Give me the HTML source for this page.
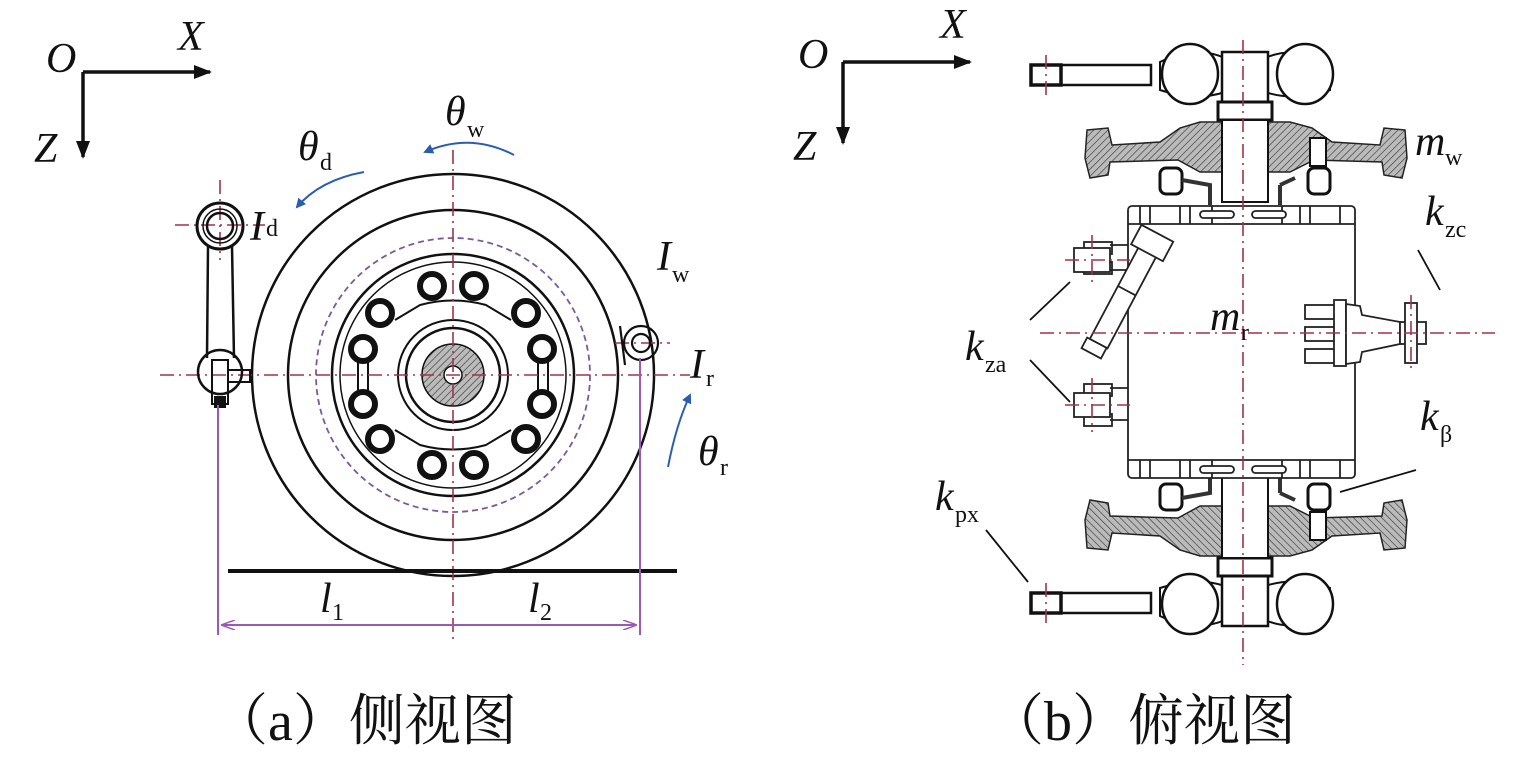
<!DOCTYPE html>
<html><head><meta charset="utf-8"><style>
html,body{margin:0;padding:0;background:#fff;}
svg{display:block;}
.t{font-family:"Liberation Serif",serif;font-style:italic;fill:#111;}
.s{font-family:"Liberation Serif",serif;fill:#111;}
.c{font-family:"Liberation Serif","Noto Serif CJK SC","Noto Sans CJK SC",serif;fill:#111;}
</style></head><body>
<svg width="1535" height="759" viewBox="0 0 1535 759" xmlns="http://www.w3.org/2000/svg">
<defs>
<marker id="ab" markerWidth="18" markerHeight="14" refX="16" refY="7" orient="auto" markerUnits="userSpaceOnUse"><path d="M0,0 L18,7 L0,14 z" fill="#111"/></marker>
<marker id="abl" markerWidth="10" markerHeight="10" refX="8" refY="5" orient="auto" markerUnits="userSpaceOnUse"><path d="M0,0 L10,5 L0,10 z" fill="#2a5db0"/></marker>
<marker id="ap" markerWidth="14" markerHeight="10" refX="13" refY="5" orient="auto" markerUnits="userSpaceOnUse"><path d="M0,0 L14,5 L0,10" fill="none" stroke="#9b59b6" stroke-width="1.5"/></marker>
<pattern id="h" width="5" height="5" patternUnits="userSpaceOnUse" patternTransform="rotate(45)"><rect width="5" height="5" fill="#bbb"/><line x1="0" y1="0" x2="0" y2="5" stroke="#444" stroke-width="1.4"/></pattern>
</defs>

<g stroke="#111" stroke-width="3.5" fill="none">
<path d="M83,72 H210" marker-end="url(#ab)"/>
<path d="M83,72 V157" marker-end="url(#ab)"/>
</g>
<text class="t" x="46" y="72" font-size="42">O</text>
<text class="t" x="178" y="50" font-size="42">X</text>
<text class="t" x="34" y="162" font-size="42">Z</text>

<g fill="none" stroke="#111" stroke-width="2.5">
<circle cx="453" cy="375" r="201"/>
<circle cx="453" cy="375" r="165"/>
<circle cx="453" cy="375" r="121"/>
<circle cx="453" cy="375" r="113" stroke-width="1.5"/>
<circle cx="453" cy="375" r="55" stroke-width="2"/>
<circle cx="453" cy="375" r="47"/>
</g>
<circle cx="453" cy="375" r="137" fill="none" stroke="#7a5a9a" stroke-width="1.8" stroke-dasharray="6,4"/>
<circle cx="453" cy="375" r="31" fill="url(#h)" stroke="#111" stroke-width="1.5"/>
<circle cx="453" cy="375" r="9" fill="#fff" stroke="#111" stroke-width="1.5"/>
<g fill="#fff" stroke="#111" stroke-width="6">
<circle cx="432" cy="286" r="12"/><circle cx="474" cy="286" r="12"/>
<circle cx="380" cy="313" r="12"/><circle cx="526" cy="313" r="12"/>
<circle cx="363" cy="349" r="12"/><circle cx="542" cy="349" r="12"/>
<circle cx="363" cy="404" r="12"/><circle cx="542" cy="404" r="12"/>
<circle cx="380" cy="439" r="12"/><circle cx="526" cy="439" r="12"/>
<circle cx="432" cy="465" r="12"/><circle cx="474" cy="465" r="12"/>
</g>
<g fill="none" stroke="#111" stroke-width="2">
<path d="M395,320 L420,305 Q453,296 486,305 L511,320"/>
<path d="M395,430 L420,445 Q453,454 486,445 L511,430"/>
<path d="M368,362 V391 M358,362 V391 M548,362 V391 M538,362 V391"/>
</g>

<g stroke="#a0334a" stroke-width="1.6" stroke-dasharray="14,5,2,5" fill="none">
<path d="M453,150 V640"/>
<path d="M160,375 H690"/>
<path d="M175,225 H265"/>
<path d="M220,180 V260"/>
<path d="M615,343 H670"/>
</g>

<g fill="none" stroke="#111" stroke-width="2.5">
<circle cx="220" cy="226" r="23" stroke-width="3"/>
<circle cx="220" cy="226" r="17" stroke-width="1.5"/>
<circle cx="220" cy="226" r="13"/>
<path d="M208,246 L207,358 M232,246 L234,358"/>
<circle cx="220" cy="372" r="22"/>
<rect x="212" y="360" width="16" height="44" stroke-width="2"/>
<rect x="228" y="370" width="22" height="12" stroke-width="2"/>
</g>
<rect x="214" y="396" width="12" height="12" fill="#111"/>
<g fill="none" stroke="#111" stroke-width="2.2">
<circle cx="641" cy="343" r="17"/>
<circle cx="641" cy="343" r="9"/>
<path d="M620,326 L625,365"/>
</g>

<path d="M228,571 H677" stroke="#111" stroke-width="4"/>

<g stroke="#9b59b6" stroke-width="2" fill="none">
<path d="M218,405 V635"/>
<path d="M640,358 V635"/>
<path d="M453,625 H222" marker-end="url(#ap)"/>
<path d="M453,625 H636" marker-end="url(#ap)"/>
</g>
<text class="t" x="320" y="612" font-size="42">l</text><text class="s" x="332" y="620" font-size="24">1</text>
<text class="t" x="528" y="612" font-size="42">l</text><text class="s" x="540" y="620" font-size="24">2</text>

<g stroke="#2a5db0" stroke-width="2" fill="none">
<path d="M514,155 Q470,132 425,152" marker-end="url(#abl)"/>
<path d="M364,172 Q320,180 297,207" marker-end="url(#abl)"/>
<path d="M668,467 Q676,425 690,395" marker-end="url(#abl)"/>
</g>

<text class="t" x="445" y="125" font-size="42">θ</text><text class="s" x="467" y="137" font-size="24">w</text>
<text class="t" x="298" y="160" font-size="42">θ</text><text class="s" x="320" y="170" font-size="24">d</text>
<text class="t" x="250" y="240" font-size="42">I</text><text class="s" x="266" y="236" font-size="24">d</text>
<text class="t" x="657" y="270" font-size="42">I</text><text class="s" x="672" y="282" font-size="24">w</text>
<text class="t" x="690" y="378" font-size="42">I</text><text class="s" x="706" y="386" font-size="24">r</text>
<text class="t" x="698" y="465" font-size="42">θ</text><text class="s" x="720" y="475" font-size="24">r</text>

<g stroke="#111" stroke-width="3.5" fill="none">
<path d="M843,62 H970" marker-end="url(#ab)"/>
<path d="M843,62 V143" marker-end="url(#ab)"/>
</g>
<text class="t" x="798" y="68" font-size="42">O</text>
<text class="t" x="940" y="38" font-size="42">X</text>
<text class="t" x="793" y="160" font-size="42">Z</text>

<g id="knob" fill="#fff" stroke="#111" stroke-width="2.5">
<rect x="1031" y="65" width="120" height="20"/>
<rect x="1031" y="65" width="30" height="20" stroke-width="3.5"/>
<path d="M1160,62 Q1195,45 1225,58 V92 Q1195,102 1160,90 Z" stroke-width="2"/>
<path d="M1330,62 Q1295,45 1265,58 V92 Q1295,102 1330,90 Z" stroke-width="2"/>
<ellipse cx="1190" cy="74" rx="28" ry="30"/>
<ellipse cx="1305" cy="74" rx="28" ry="30"/>
<rect x="1222" y="52" width="46" height="50"/>
<rect x="1218" y="102" width="54" height="18" stroke-width="3"/>
</g>
<use href="#knob" transform="translate(0,678) scale(1,-1)"/>

<g id="wheelsec">
<path d="M1087,130 L1108,128 L1112,145 L1160,142 L1180,128 L1200,122 L1222,122 L1222,172 L1200,172 L1178,160 L1110,162 L1108,175 L1090,178 L1085,158 Z" fill="url(#h)" stroke="#222" stroke-width="1.5"/>
<path d="M1405,130 L1384,128 L1380,145 L1332,142 L1312,128 L1290,122 L1268,122 L1268,172 L1290,172 L1314,160 L1382,162 L1384,175 L1402,178 L1407,158 Z" fill="url(#h)" stroke="#222" stroke-width="1.5"/>
<rect x="1222" y="120" width="46" height="82" fill="#fff" stroke="#111" stroke-width="2"/>
<rect x="1160" y="168" width="22" height="26" rx="6" fill="#fff" stroke="#111" stroke-width="3"/>
<rect x="1308" y="168" width="22" height="26" rx="6" fill="#fff" stroke="#111" stroke-width="3"/>
<rect x="1310" y="138" width="16" height="28" fill="#fff" stroke="#111" stroke-width="2"/>
<path d="M1182,180 L1210,185 L1210,205 M1280,185 L1280,205 M1280,185 L1295,178" stroke="#333" stroke-width="4" fill="none"/>
</g>
<use href="#wheelsec" transform="translate(0,678) scale(1,-1)"/>

<g fill="#fff" stroke="#222" stroke-width="1.8">
<rect x="1128" y="206" width="227" height="272" rx="4"/>
<path d="M1128,224 H1355 M1128,460 H1355"/>
<path d="M1140,206 V224 M1150,206 V224 M1180,206 V224 M1190,206 V224 M1300,206 V224 M1310,206 V224 M1340,206 V224 M1212,206 V224 M1282,206 V224"/>
<path d="M1140,460 V478 M1150,460 V478 M1180,460 V478 M1190,460 V478 M1300,460 V478 M1310,460 V478 M1340,460 V478 M1212,460 V478 M1282,460 V478"/>
<rect x="1200" y="211" width="34" height="7" rx="3.5"/><rect x="1252" y="211" width="34" height="7" rx="3.5"/>
<rect x="1200" y="466" width="34" height="7" rx="3.5"/><rect x="1252" y="466" width="34" height="7" rx="3.5"/>
<rect x="1084" y="242" width="28" height="12"/><rect x="1084" y="262" width="28" height="12"/>
<rect x="1074" y="248" width="36" height="24"/>
<rect x="1084" y="384" width="28" height="12"/><rect x="1084" y="414" width="28" height="12"/>
<rect x="1074" y="393" width="36" height="24"/>
<path d="M1110,245 H1128 M1110,270 H1128 M1110,388 H1128 M1110,420 H1128"/>
<g transform="rotate(28 1125 292)">
<rect x="1116" y="235" width="20" height="115"/>
<rect x="1108" y="225" width="36" height="22"/>
<rect x="1113" y="350" width="22" height="12"/>
<path d="M1116,290 H1136"/>
</g>
<rect x="1305" y="305" width="32" height="14"/><rect x="1305" y="327" width="32" height="14"/><rect x="1305" y="349" width="32" height="14"/>
<rect x="1334" y="300" width="12" height="66"/>
<path d="M1346,304 L1360,306 L1362,315 L1400,322 V344 L1362,352 L1360,362 L1346,364 Z"/>
<rect x="1400" y="322" width="26" height="22"/>
<rect x="1405" y="303" width="12" height="60"/>
</g>

<g stroke="#a0334a" stroke-width="1.6" stroke-dasharray="14,5,2,5" fill="none">
<path d="M1243,40 V665"/>
<path d="M1040,333 H1495"/>
<path d="M1046,55 V95 M1046,583 V623"/>
<path d="M1065,260 H1130 M1092,235 V285"/>
<path d="M1065,405 H1130 M1092,378 V432"/>
<path d="M1411,295 V370"/>
</g>

<g stroke="#111" stroke-width="1.8" fill="none">
<path d="M1070,282 L1030,320"/>
<path d="M1030,360 L1070,402"/>
<path d="M1418,250 L1440,290"/>
<path d="M1416,470 L1340,492"/>
<path d="M986,530 L1028,582"/>
</g>

<text class="t" x="1415" y="155" font-size="42">m</text><text class="s" x="1445" y="165" font-size="24">w</text>
<text class="t" x="1425" y="225" font-size="42">k</text><text class="s" x="1445" y="237" font-size="24">zc</text>
<text class="t" x="1210" y="330" font-size="42">m</text><text class="s" x="1241" y="340" font-size="24">r</text>
<text class="t" x="965" y="360" font-size="42">k</text><text class="s" x="985" y="372" font-size="24">za</text>
<text class="t" x="1420" y="430" font-size="42">k</text><text class="s" x="1440" y="442" font-size="24">β</text>
<text class="t" x="935" y="510" font-size="42">k</text><text class="s" x="955" y="522" font-size="24">px</text>

<text class="c" x="212" y="740" font-size="56">（a）侧视图</text>
<text class="c" x="988" y="740" font-size="56">（b）俯视图</text>
</svg>
</body></html>
